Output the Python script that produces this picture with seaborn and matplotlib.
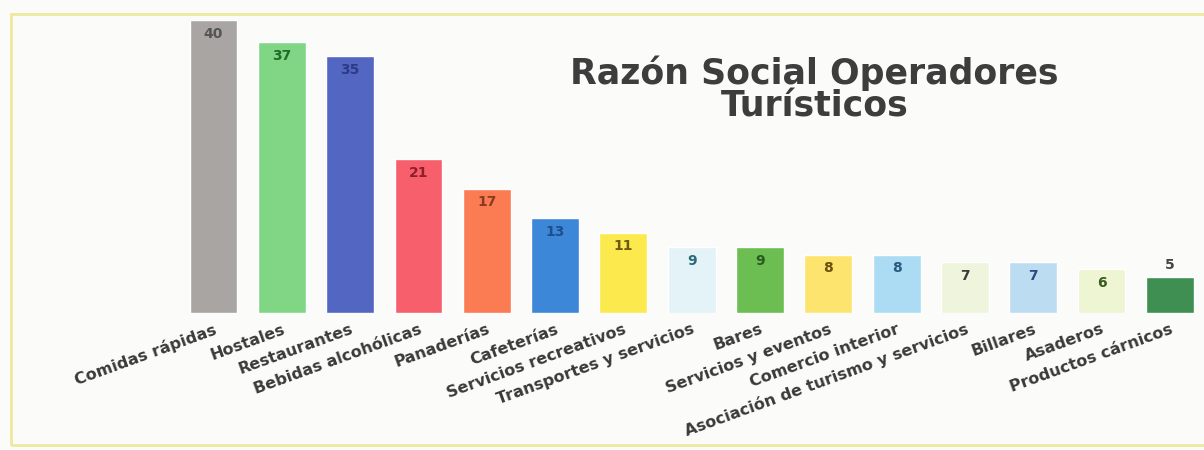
import numpy as np
import pandas as pd
import matplotlib
matplotlib.use("Agg")
import matplotlib.pyplot as plt
from matplotlib.patches import Rectangle
import seaborn as sns

# data
categorias = ['Comidas rápidas', 'Hostales', 'Restaurantes', 'Bebidas alcohólicas',
              'Panaderías', 'Cafeterías', 'Servicios recreativos',
              'Transportes y servicios', 'Bares', 'Servicios y eventos',
              'Comercio interior', 'Asociación de turismo y servicios',
              'Billares', 'Asaderos', 'Productos cárnicos']
valores = [40, 37, 35, 21, 17, 13, 11, 9, 9, 8, 8, 7, 7, 6, 5]

colores = ['#a9a5a2', '#80d684', '#5366c2', '#f65f6b', '#fb7b52', '#3c87d8',
           '#fbe94e', '#e3f3f7', '#6cbd52', '#fde46e', '#abdcf3', '#eef5dc',
           '#bcdcf2', '#eef5d2', '#3f8e52']
colores_texto = ['#555555', '#1f6b2a', '#2d3a85', '#8c1f2a', '#8a3a20', '#1d4f8a',
                 '#6b5a10', '#2a6a7a', '#2a5a20', '#6b5010', '#2a5a80', '#3a3a3a',
                 '#2a4a80', '#3a5a20', '#444444']

df = pd.DataFrame({'categoria': categorias, 'valor': valores})

sns.set_style('white')
plt.rcParams['font.family'] = ['DejaVu Sans']

fig = plt.figure(figsize=(12.04, 4.5), dpi=100, facecolor='#fbfbf9')
ax = fig.add_axes([0.149, 0.304, 0.851, 0.652])
ax.set_facecolor('#fbfbf9')

sns.barplot(data=df, x='categoria', y='valor', hue='categoria', palette=colores,
            legend=False, width=0.7, ax=ax, saturation=1)

ax.set_ylim(0, 40)
ax.set_xlim(-0.5, len(categorias) - 0.5)
for s in ax.spines.values():
    s.set_visible(False)
ax.set_yticks([])
ax.set_xlabel('')
ax.set_ylabel('')
ax.tick_params(axis='x', length=0, pad=6)
ax.set_xticks(range(len(categorias)))
ax.set_xticklabels(categorias, rotation=20, ha='right', rotation_mode='anchor',
                   fontsize=11.5, fontweight='bold', color='#3a3a3a')

# value labels
for i, cont in enumerate(ax.containers):
    if valores[i] <= 5:
        ax.bar_label(cont, fontsize=10, fontweight='bold', color=colores_texto[i], padding=3)
    else:
        ax.bar_label(cont, fontsize=10, fontweight='bold', color=colores_texto[i], padding=-15)

ax.text(0.62, 0.761, 'Razón Social Operadores\nTurísticos', transform=ax.transAxes,
        ha='center', va='center', fontsize=25, fontweight='heavy', color='#3d3d3d',
        linespacing=0.95)

# yellowish frame around the figure
fig.patches.append(Rectangle((0.009, 0.012), 1.2, 0.957, transform=fig.transFigure,
                             fill=False, edgecolor='#efe9a0', linewidth=2, zorder=0))

fig.savefig('out.png', dpi=100, facecolor=fig.get_facecolor())
